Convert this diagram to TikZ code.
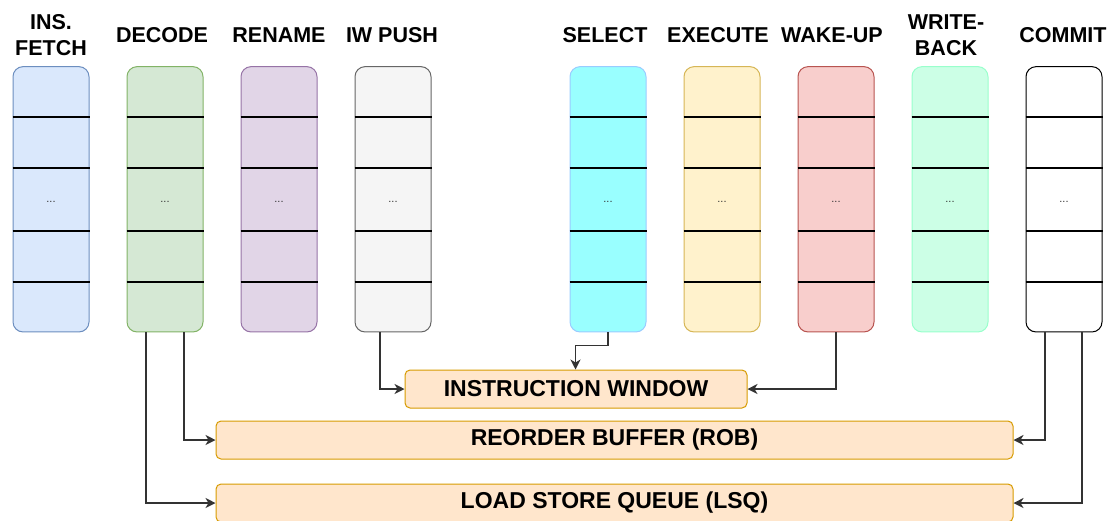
\documentclass[tikz,border=0pt]{standalone}
\usepackage{fontspec}
\setmainfont{Liberation Sans}
\usetikzlibrary{arrows.meta}
\definecolor{fetchF}{HTML}{DAE8FC}\definecolor{fetchD}{HTML}{6C8EBF}
\definecolor{decF}{HTML}{D5E8D4}\definecolor{decD}{HTML}{82B366}
\definecolor{renF}{HTML}{E1D5E7}\definecolor{renD}{HTML}{9673A6}
\definecolor{iwpF}{HTML}{F5F5F5}\definecolor{iwpD}{HTML}{666666}
\definecolor{selF}{HTML}{99FFFF}\definecolor{selD}{HTML}{99CCFF}
\definecolor{exeF}{HTML}{FFF2CC}\definecolor{exeD}{HTML}{D6B656}
\definecolor{wakF}{HTML}{F8CECC}\definecolor{wakD}{HTML}{B85450}
\definecolor{wbF}{HTML}{CCFFE6}\definecolor{wbD}{HTML}{99FFCC}
\definecolor{comF}{HTML}{FFFFFF}\definecolor{comD}{HTML}{000000}
\definecolor{qF}{HTML}{FFE6CC}\definecolor{qD}{HTML}{D79B00}
\definecolor{connC}{HTML}{333333}
\tikzset{
  colbox/.style={rectangle, rounded corners=10pt, minimum width=76pt, minimum height=265.3pt, inner sep=0pt, line width=1pt},
  divider/.style={line width=1.2pt, draw=black},
  dots/.style={font=\fontsize{11}{12}\selectfont, text=connC, inner sep=0pt},
  lab/.style={font=\fontsize{21.5}{26}\selectfont\bfseries, align=center, inner sep=0pt},
  queue/.style={rectangle, rounded corners=5pt, minimum height=38pt, inner sep=0pt, line width=1pt, fill=qF, draw=qD, font=\fontsize{23}{26}\selectfont\bfseries},
  conn/.style={draw=connC, line width=1.2pt, -{Stealth[length=10pt,width=10pt,inset=3pt]}}
}
\begin{document}
\begin{tikzpicture}[x=1pt,y=-1pt]
\useasboundingbox (0,0) rectangle (1107,520);
\foreach \n/\x/\f/\d in {fetch/51/fetchF/fetchD, decode/165/decF/decD, rename/279/renF/renD, iwpush/393/iwpF/iwpD, select/608/selF/selD, execute/722/exeF/exeD, wakeup/836/wakF/wakD, writeback/950/wbF/wbD, commit/1064/comF/comD}{
  \node[colbox, fill=\f, draw=\d] (\n) at (\x,199.3) {};
  \foreach \yy in {117,168,231,282}{
    \draw[divider] (\n.west |- 0,\yy) -- (\n.east |- 0,\yy);
  }
  \node[dots] (\n dots) at (\x,202) {...};
}
\node[lab] (fetchlab) at (51,35) {INS.\\FETCH};
\node[lab] (decodelab) at (162,35) {DECODE};
\node[lab] (renamelab) at (279,35) {RENAME};
\node[lab] (iwpushlab) at (392,35) {IW PUSH};
\node[lab] (selectlab) at (605,35) {SELECT};
\node[lab] (executelab) at (718,35) {EXECUTE};
\node[lab] (wakeuplab) at (832,35) {WAKE-UP};
\node[lab] (writebacklab) at (946,35) {WRITE-\\BACK};
\node[lab] (commitlab) at (1063,35) {COMMIT};

\node[queue, minimum width=342pt] (iw) at (576,389) {\raisebox{-1pt}{INSTRUCTION WINDOW}};
\node[queue, minimum width=797pt] (rob) at (614.5,440) {\raisebox{-1pt}{REORDER BUFFER (ROB)}};
\node[queue, minimum width=797pt] (lsq) at (614.5,503) {\raisebox{-1pt}{LOAD STORE QUEUE (LSQ)}};

\draw[conn] ([xshift=-19pt]decode.south) |- (lsq.west);
\draw[conn] ([xshift=19pt]decode.south) |- (rob.west);
\draw[conn] ([xshift=-13pt]iwpush.south) |- (iw.west);
\draw[conn] (select.south) -- ++(0,13) -| ([xshift=171pt]iw.north west);
\draw[conn] (wakeup.south) |- (iw.east);
\draw[conn] ([xshift=-19pt]commit.south) |- (rob.east);
\draw[conn] ([xshift=18pt]commit.south) |- (lsq.east);
\end{tikzpicture}
\end{document}
